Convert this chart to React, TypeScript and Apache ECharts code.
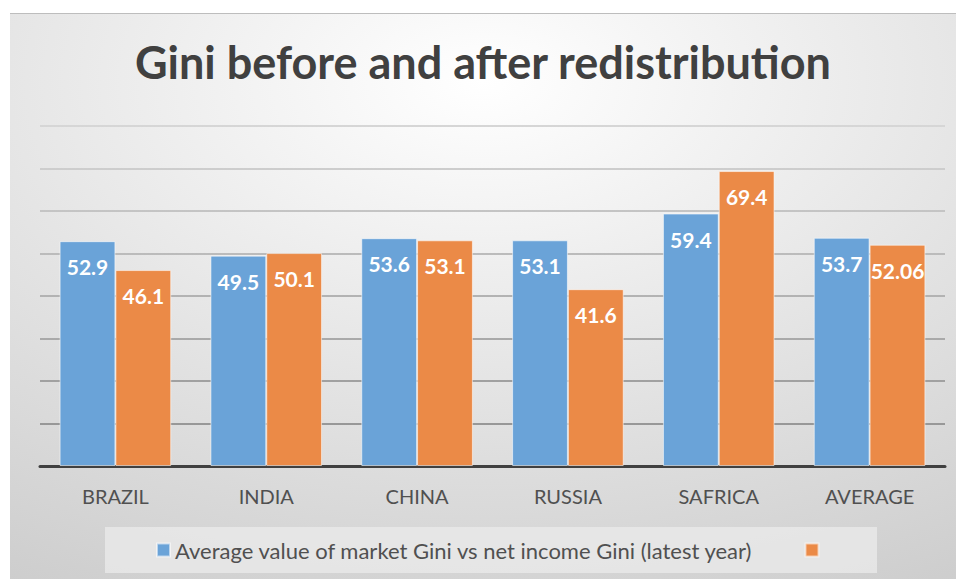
import React, { useEffect, useRef } from "react";
import * as echarts from "echarts";

const categories = ["BRAZIL", "INDIA", "CHINA", "RUSSIA", "SAFRICA", "AVERAGE"];
const marketGini = [52.9, 49.5, 53.6, 53.1, 59.4, 53.7];
const netGini = [46.1, 50.1, 53.1, 41.6, 69.4, 52.06];
const seriesNames = ["Average value of market Gini vs net income Gini (latest year)", " "];
const titleText = "Gini before and after redistribution";

const FONT = "Lato, 'Open Sans', sans-serif";

export default function App() {
  const ref = useRef<HTMLDivElement>(null);
  useEffect(() => {
    if (!ref.current) return;
    const chart = echarts.init(ref.current, null, { renderer: "svg" });
    const labelCfg = {
      show: true,
      position: "insideTop" as const,
      distance: 15,
      color: "#ffffff",
      fontSize: 21,
      fontWeight: "bold" as const,
      fontFamily: FONT,
    };
    chart.setOption({
      animation: false,
      backgroundColor: {
        type: "radial",
        x: 0.5,
        y: 0.12,
        r: 1.25,
        colorStops: [
          { offset: 0, color: "#ffffff" },
          { offset: 0.45, color: "#e3e3e3" },
          { offset: 1, color: "#c2c2c2" },
        ],
      },
      title: {
        text: titleText,
        left: "center",
        top: 26,
        padding: 0,
        textStyle: { fontSize: 45, fontWeight: "bold", color: "#404040", fontFamily: FONT },
      },
      graphic: [
        {
          type: "rect",
          z: -1,
          shape: { x: 95, y: 514, width: 772, height: 46 },
          style: { fill: "rgba(235,235,235,0.75)" },
        },
        {
          type: "line",
          shape: { x1: 0, y1: 0.5, x2: 946, y2: 0.5 },
          style: { stroke: "#bdbdbd", lineWidth: 1 },
        },
      ],
      legend: {
        data: seriesNames,
        left: 146,
        top: 526,
        padding: 0,
        itemWidth: 13,
        itemHeight: 13,
        itemGap: 51,
        icon: "rect",
        textStyle: { fontSize: 22, color: "#505050", fontFamily: FONT },
      },
      grid: { left: 30, right: 11, top: 113, bottom: 113, containLabel: false },
      xAxis: {
        type: "category",
        data: categories,
        axisLine: { lineStyle: { color: "#404040", width: 3 } },
        axisTick: { show: false },
        axisLabel: { color: "#505050", fontSize: 20, margin: 20, fontFamily: FONT },
      },
      yAxis: {
        type: "value",
        min: 0,
        max: 80,
        interval: 10,
        axisLabel: { show: false },
        axisLine: { show: false },
        axisTick: { show: false },
        splitLine: {
          lineStyle: {
            width: 2,
            color: {
              type: "linear",
              global: true,
              x: 0,
              y: 113,
              x2: 0,
              y2: 453,
              colorStops: [
                { offset: 0, color: "#d6d6d6" },
                { offset: 1, color: "#8f8f8f" },
              ],
            },
          },
        },
      },
      series: [
        {
          name: seriesNames[0],
          type: "bar",
          data: marketGini,
          barGap: "0%",
          barCategoryGap: "26%",
          itemStyle: { color: "#6aa3d8", borderColor: "rgba(255,255,255,0.55)", borderWidth: 1 },
          label: labelCfg,
        },
        {
          name: seriesNames[1],
          type: "bar",
          data: netGini,
          itemStyle: { color: "#eb8a47", borderColor: "rgba(255,255,255,0.55)", borderWidth: 1 },
          label: labelCfg,
        },
      ],
    });
    return () => chart.dispose();
  }, []);
  return (
    <div
      ref={ref}
      style={{ position: "absolute", left: 10, top: 13, width: 946, height: 566 }}
    />
  );
}
